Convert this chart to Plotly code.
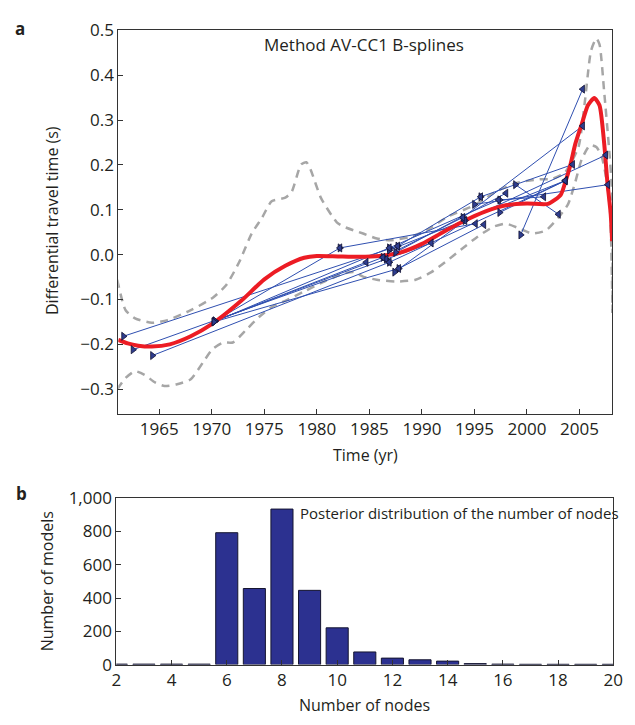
import plotly.graph_objects as go

# ---------------- data: panel a ----------------
red_x = [1961.1, 1962.0, 1963.0, 1964.3, 1966.0, 1968.0, 1970.0, 1972.8, 1975.0, 1977.0,
         1978.8, 1980.0, 1982.0, 1984.0, 1986.0, 1988.0, 1990.0, 1992.0, 1994.0, 1996.0,
         1998.0, 2000.0, 2002.0, 2003.2, 2003.65, 2004.1, 2004.6, 2005.2, 2005.8, 2006.4,
         2006.9, 2007.35, 2007.65, 2007.97, 2008.1]
red_y = [-0.19, -0.198, -0.203, -0.205, -0.200, -0.182, -0.155, -0.103, -0.055, -0.025,
         -0.007, -0.003, -0.004, -0.005, -0.003, 0.005, 0.024, 0.05, 0.075, 0.096,
         0.11, 0.114, 0.113, 0.133, 0.162, 0.197, 0.247, 0.29, 0.333, 0.349,
         0.333, 0.247, 0.162, 0.09, 0.03]

upper_x = [1961.0, 1961.8, 1962.7, 1964.3, 1965.8, 1968.0, 1970.1, 1971.4, 1972.6, 1973.8,
           1974.8, 1975.7, 1977.0, 1977.6, 1978.5, 1979.0, 1979.4, 1980.4, 1981.9, 1982.6,
           1984.4, 1985.7, 1987.0, 1989.0, 1990.5, 1992.5, 1995.0, 1997.0, 1999.0, 2001.2,
           2002.4, 2003.6, 2004.9, 2005.5, 2006.1, 2006.6, 2006.9, 2007.35, 2007.8, 2008.1,
           2008.14]
upper_y = [-0.056, -0.124, -0.142, -0.152, -0.146, -0.124, -0.096, -0.067, -0.017, 0.047,
           0.083, 0.119, 0.127, 0.14, 0.201, 0.206, 0.19, 0.126, 0.072, 0.062,
           0.047, 0.036, 0.032, 0.04, 0.055, 0.085, 0.11, 0.14, 0.16, 0.168,
           0.169, 0.183, 0.24, 0.34, 0.455, 0.482, 0.469, 0.362, 0.24, 0.14,
           -0.13]

lower_x = [1961.0, 1961.8, 1962.7, 1963.6, 1964.6, 1965.5, 1966.7, 1968.0, 1969.2, 1970.1,
           1971.1, 1972.0, 1973.3, 1974.5, 1975.7, 1977.0, 1978.8, 1980.7, 1982.6, 1983.5,
           1984.4, 1985.7, 1987.5, 1989.4, 1990.9, 1992.2, 1993.7, 1995.3, 1996.8, 1998.0,
           1999.3, 2000.5, 2001.8, 2003.0, 2003.9, 2004.6, 2005.2, 2006.0, 2006.6, 2007.1,
           2007.5, 2007.9, 2008.14]
lower_y = [-0.3, -0.275, -0.26, -0.268, -0.285, -0.293, -0.289, -0.278, -0.239, -0.21,
           -0.196, -0.196, -0.167, -0.139, -0.117, -0.103, -0.082, -0.06, -0.042, -0.039,
           -0.049, -0.056, -0.06, -0.056, -0.039, -0.017, 0.011, 0.04, 0.062, 0.069,
           0.058, 0.047, 0.054, 0.083, 0.112, 0.162, 0.212, 0.244, 0.24, 0.219,
           0.176, 0.1, -0.13]

# doublets: first event (start) and repeat event (end)
start_x = [1961.6, 1962.5, 1964.35, 1970.3, 1970.3, 1970.3, 1970.2, 1970.2, 1982.2, 1986.9,
           1987.7, 1986.6, 1986.9, 1987.8, 1987.4, 1986.3, 1987.5, 1993.9, 1994.1, 1995.0,
           1995.6, 1997.4, 1999.4, 1998.9, 1997.4, 1986.9]
start_y = [-0.182, -0.212, -0.225, -0.148, -0.148, -0.148, -0.150, -0.150, 0.015, 0.015,
           0.019, -0.010, -0.017, -0.031, -0.039, -0.006, 0.005, 0.083, 0.076, 0.112,
           0.129, 0.094, 0.044, 0.156, 0.122, 0.010]
end_x = [1987.7, 1986.6, 1986.9, 1982.2, 1984.7, 1986.3, 1986.9, 1987.8, 1995.1, 1997.3,
         1995.6, 1990.9, 2003.65, 1995.9, 1994.1, 1993.9, 1998.0, 2005.3, 2007.5, 2007.7,
         2004.35, 2003.65, 2005.3, 2003.0, 2001.6, 2003.65]
end_y = [0.019, -0.010, -0.017, 0.015, -0.017, -0.006, 0.015, -0.031, 0.069, 0.122,
         0.129, 0.026, 0.165, 0.067, 0.076, 0.083, 0.137, 0.287, 0.222, 0.156,
         0.201, 0.165, 0.369, 0.090, 0.129, 0.165]

x_ticks_a = [1965, 1970, 1975, 1980, 1985, 1990, 1995, 2000, 2005]
y_ticks_a = [-0.3, -0.2, -0.1, 0.0, 0.1, 0.2, 0.3, 0.4, 0.5]

# ---------------- data: panel b ----------------
nodes = [2, 3, 4, 5, 6, 7, 8, 9, 10, 11, 12, 13, 14, 15, 16, 17, 18, 19, 20]
counts = [3, 3, 3, 3, 792, 457, 934, 446, 221, 76, 39, 29, 21, 6, 3, 2, 2, 2, 2]
x_ticks_b = [2, 4, 6, 8, 10, 12, 14, 16, 18, 20]
y_ticks_b = [0, 200, 400, 600, 800, 1000]

# ---------------- figure ----------------
W, H = 635, 725
FONT = "Open Sans"
TXT = "#231f20"
fig = go.Figure()

dash = "8px,6px"
fig.add_trace(go.Scatter(x=upper_x, y=upper_y, mode="lines", xaxis="x", yaxis="y",
                         line=dict(color="#a6a6a6", width=2.5, dash=dash, shape="spline", smoothing=0.6),
                         hoverinfo="skip", showlegend=False))
fig.add_trace(go.Scatter(x=lower_x, y=lower_y, mode="lines", xaxis="x", yaxis="y",
                         line=dict(color="#a6a6a6", width=2.5, dash=dash, shape="spline", smoothing=0.6),
                         hoverinfo="skip", showlegend=False))

lx, ly = [], []
for sx, sy, ex, ey in zip(start_x, start_y, end_x, end_y):
    lx += [sx, ex, None]
    ly += [sy, ey, None]
fig.add_trace(go.Scatter(x=lx, y=ly, mode="lines", xaxis="x", yaxis="y",
                         line=dict(color="#2f4fb0", width=1),
                         hoverinfo="skip", showlegend=False))

fig.add_trace(go.Scatter(x=red_x, y=red_y, mode="lines", xaxis="x", yaxis="y",
                         line=dict(color="#ec1c24", width=4, shape="spline", smoothing=0.6),
                         showlegend=False))

mk = dict(color="#2e3d8f", size=7, line=dict(color="#101030", width=0.8))
fig.add_trace(go.Scatter(x=start_x, y=start_y, mode="markers", xaxis="x", yaxis="y",
                         marker=dict(symbol="triangle-right", **mk), showlegend=False))
fig.add_trace(go.Scatter(x=end_x, y=end_y, mode="markers", xaxis="x", yaxis="y",
                         marker=dict(symbol="triangle-left", **mk), showlegend=False))

fig.add_trace(go.Bar(x=nodes, y=counts, xaxis="x2", yaxis="y2", width=0.8,
                     marker=dict(color="#2c3190", line=dict(color="#151530", width=1)),
                     showlegend=False))

def px(x):
    return x / W

def py(y):
    return 1 - y / H

axis_common = dict(showgrid=False, zeroline=False, showline=True, linecolor="#333333",
                   linewidth=1, mirror=True, ticks="inside", ticklen=5, tickcolor="#333333",
                   tickfont=dict(family=FONT, size=17, color=TXT))

fig.update_layout(
    width=W, height=H, margin=dict(l=0, r=0, t=0, b=0),
    paper_bgcolor="white", plot_bgcolor="white",
    font=dict(family=FONT, color=TXT),
    xaxis=dict(domain=[px(116), px(622)], range=[1961.1, 2008.12], anchor="y",
               tickvals=x_ticks_a, **axis_common),
    yaxis=dict(domain=[py(415), py(19)], range=[-0.355, 0.5], anchor="x",
               tickvals=y_ticks_a, tickformat=".1f", **axis_common),
    xaxis2=dict(domain=[px(114), px(623)], range=[2, 20], anchor="y2",
                tickvals=x_ticks_b, **axis_common),
    yaxis2=dict(domain=[py(674), py(502)], range=[0, 1000], anchor="x2",
                tickvals=y_ticks_b, tickformat=",", **axis_common),
    bargap=0.2,
)

ann = [
    dict(text="<b>a</b>", x=px(15), y=py(17), size=17, angle=0, xa="center"),
    dict(text="<b>b</b>", x=px(17), y=py(497), size=17, angle=0, xa="center"),
    dict(text="Method AV-CC1 B-splines", x=px(368), y=py(34), size=17, angle=0, xa="center"),
    dict(text="Posterior distribution of the number of nodes", x=px(300), y=py(517), size=15, angle=0, xa="left"),
    dict(text="Differential travel time (s)", x=px(48), y=py(215), size=16, angle=-90, xa="center"),
    dict(text="Time (yr)", x=px(369), y=py(457), size=16, angle=0, xa="center"),
    dict(text="Number of models", x=px(43), y=py(588), size=16, angle=-90, xa="center"),
    dict(text="Number of nodes", x=px(368), y=py(716), size=16, angle=0, xa="center"),
]
for a in ann:
    fig.add_annotation(text=a["text"], x=a["x"], y=a["y"], xref="paper", yref="paper",
                       showarrow=False, textangle=a["angle"], xanchor=a["xa"], yanchor="middle",
                       font=dict(family=FONT, size=a["size"], color=TXT))

fig.write_html("out.html")
